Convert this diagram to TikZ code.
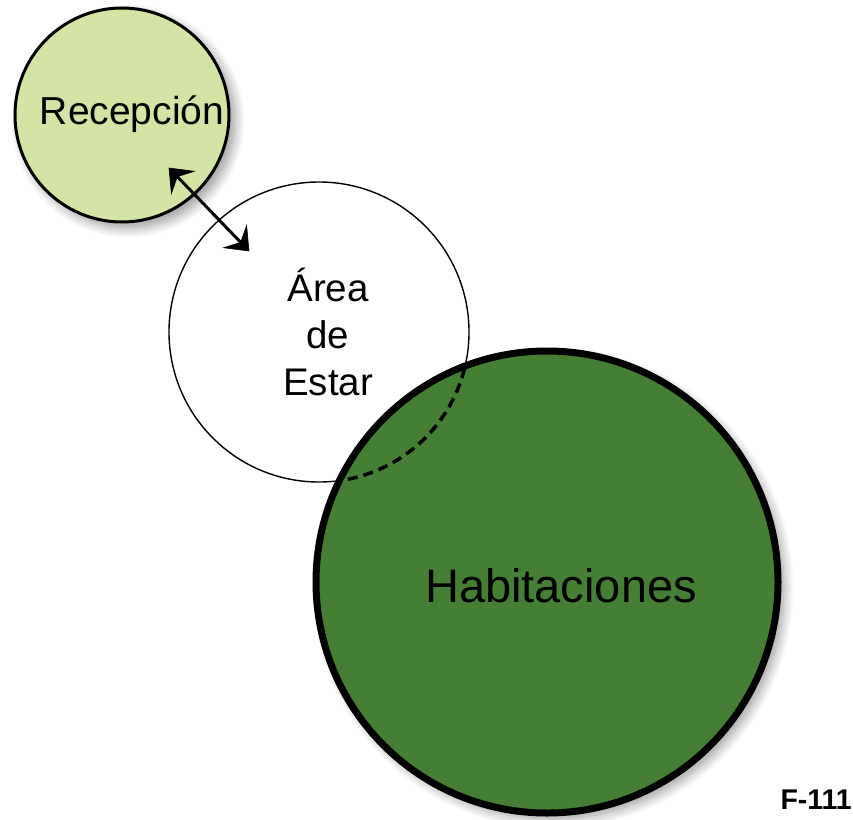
\documentclass[tikz,border=0pt]{standalone}
\usepackage{fontspec}
\setmainfont{Liberation Sans}
\usetikzlibrary{shadows.blur}
\definecolor{recfill}{HTML}{D4E4A4}
\definecolor{habfill}{HTML}{457F34}
\begin{document}
\begin{tikzpicture}[x=1pt,y=-1pt,
  zone/.style={circle,draw=black,inner sep=0pt},
  lbl/.style={inner sep=0pt,align=center,text=black},
  link/.style={line width=3pt,shorten <=8pt,shorten >=8pt},
  headshape/.style={fill=black,draw=black,line width=0.6pt,line join=miter},
  shad/.style={blur shadow={shadow xshift=6pt,shadow yshift=-6pt,shadow opacity=40,shadow blur steps=12,shadow blur radius=10pt}}]
\useasboundingbox (0,0) rectangle (853,819);
% Recepcion
\node[zone,shad,fill=recfill,line width=3pt,minimum size=214pt] (rec) at (122,115) {};
\node[lbl,font=\fontsize{39}{47}\selectfont] (rect) at (132,114) {Recepción};
% Area de estar
\node[zone,fill=white,line width=1.4pt,minimum size=300pt] (area) at (319,332) {};
\node[lbl,font=\fontsize{38.5}{47}\selectfont] (areat) at (328,332) {Área\\de\hspace{18pt}\\Estar};
% Habitaciones
\node[zone,shad,fill=habfill,line width=7pt,minimum size=462pt] (hab) at (547,582) {};
\begin{scope}
  \clip (hab.center) circle[radius=228pt];
  \draw[line width=3.5pt,dash pattern=on 10pt off 6pt] (area.center) circle[radius=150pt];
\end{scope}
\node[lbl,font=\fontsize{47}{56}\selectfont] (habt) at (561,586) {Habitaciones};
% arrow
\coordinate (a1) at (169,168);
\coordinate (a2) at (249,251);
\draw[link] (a1) -- (a2);
\begin{scope}[shift={(a2)},rotate=-46]
  \path[headshape] (0,0) -- (-20,16) -- (-12,0) -- (-20,-16) -- cycle;
\end{scope}
\begin{scope}[shift={(a1)},rotate=134]
  \path[headshape] (0,0) -- (-20,16) -- (-12,0) -- (-20,-16) -- cycle;
\end{scope}
% code
\node[lbl,font=\bfseries\fontsize{28.5}{32}\selectfont,anchor=east] (code) at (852,800) {F-111};
\end{tikzpicture}
\end{document}
